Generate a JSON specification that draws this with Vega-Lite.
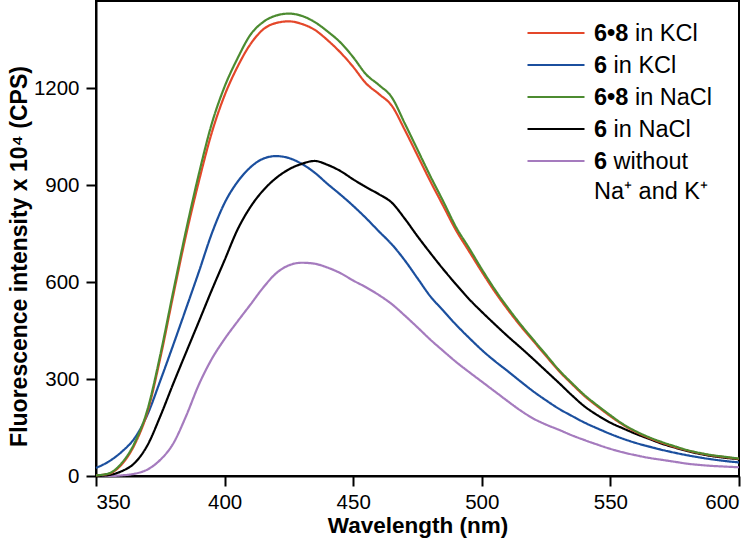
{
  "$schema": "https://vega.github.io/schema/vega-lite/v6.json",
  "width": 643,
  "height": 475,
  "autosize": {"type": "none"},
  "padding": {"left": 96, "top": 1, "right": 17, "bottom": 62},
  "background": "white",
  "config": {
    "font": "Liberation Sans",
    "view": {"stroke": "#000", "strokeWidth": 2},
    "axis": {
      "domainColor": "#000", "domainWidth": 2, "tickColor": "#000", "tickWidth": 2, "tickSize": 10,
      "labelFontSize": 20.5, "labelColor": "#000", "labelFont": "Liberation Sans",
      "titleFontSize": 22.5, "titleFontWeight": "bold", "titleColor": "#000", "titleFont": "Liberation Sans",
      "grid": false
    },
    "legend": {
      "orient": "none", "legendX": 430, "legendY": 16, "title": null, "padding": 0,
      "symbolType": "stroke", "symbolSize": 3249, "symbolStrokeWidth": 2.2, "clipHeight": 32, "rowPadding": 0,
      "labelOffset": 8, "labelFontSize": 23.5, "labelFont": "Liberation Sans", "labelColor": "#000", "labelLimit": 0,
      "labelBaseline": "alphabetic"
    }
  },
  "datasets": {
    "spectra": [
      {"s":"6 without","w":350,"v":0},{"s":"6 without","w":355,"v":0},{"s":"6 without","w":360,"v":2},{"s":"6 without","w":365,"v":7},{"s":"6 without","w":370,"v":20},{"s":"6 without","w":375,"v":50},{"s":"6 without","w":380,"v":100},{"s":"6 without","w":385,"v":185},{"s":"6 without","w":390,"v":283},{"s":"6 without","w":395,"v":362},{"s":"6 without","w":400,"v":424},{"s":"6 without","w":405,"v":478},{"s":"6 without","w":410,"v":530},{"s":"6 without","w":415,"v":583},{"s":"6 without","w":420,"v":627},{"s":"6 without","w":425,"v":652},{"s":"6 without","w":430,"v":660},{"s":"6 without","w":435,"v":657},{"s":"6 without","w":440,"v":645},{"s":"6 without","w":445,"v":628},{"s":"6 without","w":450,"v":605},{"s":"6 without","w":455,"v":584},{"s":"6 without","w":460,"v":560},{"s":"6 without","w":465,"v":532},{"s":"6 without","w":470,"v":497},{"s":"6 without","w":475,"v":460},{"s":"6 without","w":480,"v":422},{"s":"6 without","w":485,"v":387},{"s":"6 without","w":490,"v":353},{"s":"6 without","w":495,"v":322},{"s":"6 without","w":500,"v":292},{"s":"6 without","w":505,"v":262},{"s":"6 without","w":510,"v":232},{"s":"6 without","w":515,"v":203},{"s":"6 without","w":520,"v":178},{"s":"6 without","w":525,"v":159},{"s":"6 without","w":530,"v":143},{"s":"6 without","w":535,"v":126},{"s":"6 without","w":540,"v":111},{"s":"6 without","w":545,"v":97},{"s":"6 without","w":550,"v":84},{"s":"6 without","w":555,"v":73},{"s":"6 without","w":560,"v":64},{"s":"6 without","w":565,"v":56},{"s":"6 without","w":570,"v":50},{"s":"6 without","w":575,"v":44},{"s":"6 without","w":580,"v":38},{"s":"6 without","w":585,"v":34},{"s":"6 without","w":590,"v":31},{"s":"6 without","w":595,"v":29},{"s":"6 without","w":600,"v":27},
      {"s":"6 in KCl","w":350,"v":25},{"s":"6 in KCl","w":355,"v":45},{"s":"6 in KCl","w":360,"v":75},{"s":"6 in KCl","w":365,"v":117},{"s":"6 in KCl","w":370,"v":190},{"s":"6 in KCl","w":375,"v":295},{"s":"6 in KCl","w":380,"v":405},{"s":"6 in KCl","w":385,"v":518},{"s":"6 in KCl","w":390,"v":632},{"s":"6 in KCl","w":395,"v":750},{"s":"6 in KCl","w":400,"v":845},{"s":"6 in KCl","w":405,"v":910},{"s":"6 in KCl","w":410,"v":955},{"s":"6 in KCl","w":415,"v":982},{"s":"6 in KCl","w":420,"v":990},{"s":"6 in KCl","w":425,"v":984},{"s":"6 in KCl","w":430,"v":966},{"s":"6 in KCl","w":435,"v":939},{"s":"6 in KCl","w":440,"v":904},{"s":"6 in KCl","w":445,"v":871},{"s":"6 in KCl","w":450,"v":836},{"s":"6 in KCl","w":455,"v":798},{"s":"6 in KCl","w":460,"v":757},{"s":"6 in KCl","w":465,"v":717},{"s":"6 in KCl","w":470,"v":668},{"s":"6 in KCl","w":475,"v":612},{"s":"6 in KCl","w":480,"v":556},{"s":"6 in KCl","w":485,"v":512},{"s":"6 in KCl","w":490,"v":468},{"s":"6 in KCl","w":495,"v":428},{"s":"6 in KCl","w":500,"v":390},{"s":"6 in KCl","w":505,"v":356},{"s":"6 in KCl","w":510,"v":325},{"s":"6 in KCl","w":515,"v":293},{"s":"6 in KCl","w":520,"v":262},{"s":"6 in KCl","w":525,"v":234},{"s":"6 in KCl","w":530,"v":208},{"s":"6 in KCl","w":535,"v":186},{"s":"6 in KCl","w":540,"v":165},{"s":"6 in KCl","w":545,"v":147},{"s":"6 in KCl","w":550,"v":130},{"s":"6 in KCl","w":555,"v":115},{"s":"6 in KCl","w":560,"v":102},{"s":"6 in KCl","w":565,"v":91},{"s":"6 in KCl","w":570,"v":81},{"s":"6 in KCl","w":575,"v":72},{"s":"6 in KCl","w":580,"v":64},{"s":"6 in KCl","w":585,"v":57},{"s":"6 in KCl","w":590,"v":51},{"s":"6 in KCl","w":595,"v":46},{"s":"6 in KCl","w":600,"v":42},
      {"s":"6 in NaCl","w":350,"v":0},{"s":"6 in NaCl","w":355,"v":3},{"s":"6 in NaCl","w":360,"v":15},{"s":"6 in NaCl","w":365,"v":40},{"s":"6 in NaCl","w":370,"v":95},{"s":"6 in NaCl","w":375,"v":185},{"s":"6 in NaCl","w":380,"v":285},{"s":"6 in NaCl","w":385,"v":382},{"s":"6 in NaCl","w":390,"v":478},{"s":"6 in NaCl","w":395,"v":575},{"s":"6 in NaCl","w":400,"v":668},{"s":"6 in NaCl","w":405,"v":762},{"s":"6 in NaCl","w":410,"v":832},{"s":"6 in NaCl","w":415,"v":884},{"s":"6 in NaCl","w":420,"v":922},{"s":"6 in NaCl","w":425,"v":949},{"s":"6 in NaCl","w":430,"v":966},{"s":"6 in NaCl","w":435,"v":975},{"s":"6 in NaCl","w":440,"v":963},{"s":"6 in NaCl","w":445,"v":944},{"s":"6 in NaCl","w":450,"v":918},{"s":"6 in NaCl","w":455,"v":894},{"s":"6 in NaCl","w":460,"v":872},{"s":"6 in NaCl","w":465,"v":846},{"s":"6 in NaCl","w":470,"v":797},{"s":"6 in NaCl","w":475,"v":742},{"s":"6 in NaCl","w":480,"v":690},{"s":"6 in NaCl","w":485,"v":640},{"s":"6 in NaCl","w":490,"v":593},{"s":"6 in NaCl","w":495,"v":548},{"s":"6 in NaCl","w":500,"v":508},{"s":"6 in NaCl","w":505,"v":470},{"s":"6 in NaCl","w":510,"v":433},{"s":"6 in NaCl","w":515,"v":398},{"s":"6 in NaCl","w":520,"v":362},{"s":"6 in NaCl","w":525,"v":325},{"s":"6 in NaCl","w":530,"v":288},{"s":"6 in NaCl","w":535,"v":250},{"s":"6 in NaCl","w":540,"v":215},{"s":"6 in NaCl","w":545,"v":188},{"s":"6 in NaCl","w":550,"v":165},{"s":"6 in NaCl","w":555,"v":147},{"s":"6 in NaCl","w":560,"v":130},{"s":"6 in NaCl","w":565,"v":115},{"s":"6 in NaCl","w":570,"v":100},{"s":"6 in NaCl","w":575,"v":88},{"s":"6 in NaCl","w":580,"v":77},{"s":"6 in NaCl","w":585,"v":68},{"s":"6 in NaCl","w":590,"v":61},{"s":"6 in NaCl","w":595,"v":56},{"s":"6 in NaCl","w":600,"v":52},
      {"s":"6•8 in KCl","w":350,"v":2},{"s":"6•8 in KCl","w":355,"v":7},{"s":"6•8 in KCl","w":360,"v":36},{"s":"6•8 in KCl","w":365,"v":97},{"s":"6•8 in KCl","w":370,"v":198},{"s":"6•8 in KCl","w":375,"v":365},{"s":"6•8 in KCl","w":380,"v":558},{"s":"6•8 in KCl","w":385,"v":745},{"s":"6•8 in KCl","w":390,"v":912},{"s":"6•8 in KCl","w":395,"v":1062},{"s":"6•8 in KCl","w":400,"v":1178},{"s":"6•8 in KCl","w":405,"v":1266},{"s":"6•8 in KCl","w":410,"v":1336},{"s":"6•8 in KCl","w":415,"v":1382},{"s":"6•8 in KCl","w":420,"v":1402},{"s":"6•8 in KCl","w":425,"v":1407},{"s":"6•8 in KCl","w":430,"v":1399},{"s":"6•8 in KCl","w":435,"v":1381},{"s":"6•8 in KCl","w":440,"v":1349},{"s":"6•8 in KCl","w":445,"v":1311},{"s":"6•8 in KCl","w":450,"v":1266},{"s":"6•8 in KCl","w":455,"v":1215},{"s":"6•8 in KCl","w":460,"v":1182},{"s":"6•8 in KCl","w":465,"v":1146},{"s":"6•8 in KCl","w":470,"v":1072},{"s":"6•8 in KCl","w":475,"v":992},{"s":"6•8 in KCl","w":480,"v":912},{"s":"6•8 in KCl","w":485,"v":836},{"s":"6•8 in KCl","w":490,"v":760},{"s":"6•8 in KCl","w":495,"v":696},{"s":"6•8 in KCl","w":500,"v":632},{"s":"6•8 in KCl","w":505,"v":571},{"s":"6•8 in KCl","w":510,"v":516},{"s":"6•8 in KCl","w":515,"v":465},{"s":"6•8 in KCl","w":520,"v":418},{"s":"6•8 in KCl","w":525,"v":371},{"s":"6•8 in KCl","w":530,"v":325},{"s":"6•8 in KCl","w":535,"v":285},{"s":"6•8 in KCl","w":540,"v":247},{"s":"6•8 in KCl","w":545,"v":215},{"s":"6•8 in KCl","w":550,"v":185},{"s":"6•8 in KCl","w":555,"v":158},{"s":"6•8 in KCl","w":560,"v":136},{"s":"6•8 in KCl","w":565,"v":118},{"s":"6•8 in KCl","w":570,"v":103},{"s":"6•8 in KCl","w":575,"v":90},{"s":"6•8 in KCl","w":580,"v":79},{"s":"6•8 in KCl","w":585,"v":70},{"s":"6•8 in KCl","w":590,"v":63},{"s":"6•8 in KCl","w":595,"v":58},{"s":"6•8 in KCl","w":600,"v":53},
      {"s":"6•8 in NaCl","w":350,"v":2},{"s":"6•8 in NaCl","w":355,"v":8},{"s":"6•8 in NaCl","w":360,"v":40},{"s":"6•8 in NaCl","w":365,"v":102},{"s":"6•8 in NaCl","w":370,"v":205},{"s":"6•8 in NaCl","w":375,"v":375},{"s":"6•8 in NaCl","w":380,"v":570},{"s":"6•8 in NaCl","w":385,"v":760},{"s":"6•8 in NaCl","w":390,"v":935},{"s":"6•8 in NaCl","w":395,"v":1090},{"s":"6•8 in NaCl","w":400,"v":1205},{"s":"6•8 in NaCl","w":405,"v":1292},{"s":"6•8 in NaCl","w":410,"v":1365},{"s":"6•8 in NaCl","w":415,"v":1405},{"s":"6•8 in NaCl","w":420,"v":1425},{"s":"6•8 in NaCl","w":425,"v":1431},{"s":"6•8 in NaCl","w":430,"v":1424},{"s":"6•8 in NaCl","w":435,"v":1405},{"s":"6•8 in NaCl","w":440,"v":1376},{"s":"6•8 in NaCl","w":445,"v":1342},{"s":"6•8 in NaCl","w":450,"v":1296},{"s":"6•8 in NaCl","w":455,"v":1243},{"s":"6•8 in NaCl","w":460,"v":1210},{"s":"6•8 in NaCl","w":465,"v":1172},{"s":"6•8 in NaCl","w":470,"v":1092},{"s":"6•8 in NaCl","w":475,"v":1010},{"s":"6•8 in NaCl","w":480,"v":928},{"s":"6•8 in NaCl","w":485,"v":850},{"s":"6•8 in NaCl","w":490,"v":770},{"s":"6•8 in NaCl","w":495,"v":706},{"s":"6•8 in NaCl","w":500,"v":640},{"s":"6•8 in NaCl","w":505,"v":578},{"s":"6•8 in NaCl","w":510,"v":522},{"s":"6•8 in NaCl","w":515,"v":470},{"s":"6•8 in NaCl","w":520,"v":422},{"s":"6•8 in NaCl","w":525,"v":375},{"s":"6•8 in NaCl","w":530,"v":328},{"s":"6•8 in NaCl","w":535,"v":288},{"s":"6•8 in NaCl","w":540,"v":250},{"s":"6•8 in NaCl","w":545,"v":218},{"s":"6•8 in NaCl","w":550,"v":188},{"s":"6•8 in NaCl","w":555,"v":160},{"s":"6•8 in NaCl","w":560,"v":138},{"s":"6•8 in NaCl","w":565,"v":120},{"s":"6•8 in NaCl","w":570,"v":105},{"s":"6•8 in NaCl","w":575,"v":92},{"s":"6•8 in NaCl","w":580,"v":80},{"s":"6•8 in NaCl","w":585,"v":71},{"s":"6•8 in NaCl","w":590,"v":64},{"s":"6•8 in NaCl","w":595,"v":59},{"s":"6•8 in NaCl","w":600,"v":54}
    ]
  },
  "data": {"name": "spectra"},
  "mark": {"type": "line", "strokeWidth": 2.2, "interpolate": "monotone"},
  "encoding": {
    "x": {
      "field": "w", "type": "quantitative",
      "scale": {"domain": [350, 600], "nice": false, "zero": false},
      "axis": {"values": [350, 400, 450, 500, 550, 600], "title": "Wavelength (nm)", "labelPadding": 6, "titlePadding": 2}
    },
    "y": {
      "field": "v", "type": "quantitative",
      "scale": {"domain": [0, 1470], "nice": false},
      "axis": {"values": [0, 300, 600, 900, 1200], "format": "d", "title": "Fluorescence intensity x 10⁴ (CPS)", "titleFontSize": 23, "labelPadding": 7, "titlePadding": 2, "titleY": 255}
    },
    "color": {
      "field": "s", "type": "nominal",
      "scale": {
        "domain": ["6•8 in KCl", "6 in KCl", "6•8 in NaCl", "6 in NaCl", "6 without"],
        "range": ["#E4472A", "#1B4F9E", "#4C8B30", "#000000", "#A57BBE"]
      },
      "legend": {
        "labelFontWeight": "bold",
        "labelExpr": "indexof(datum.label, '•') >= 0 ? '6•8' : '6'",
        "encode": {"labels": {"update": {"dy": {"value": 8.4}}}}
      }
    },
    "opacity": {
      "field": "s", "type": "ordinal",
      "sort": ["6•8 in KCl", "6 in KCl", "6•8 in NaCl", "6 in NaCl", "6 without"],
      "scale": {"range": [1, 1]},
      "legend": {
        "symbolStrokeColor": "transparent", "symbolOpacity": 0,
        "labelExpr": "datum.label == '6 without' ? 'without' : substring(datum.label, indexof(datum.label, ' ') + 1)",
        "encode": {
          "labels": {"update": {"dy": {"value": 8.4}, "dx": {"signal": "indexof(datum.value, '•') >= 0 ? 41 : 19.6"}}},
          "symbols": {"update": {"opacity": {"value": 0}}}
        }
      }
    },
    "strokeDash": {
      "field": "s", "type": "nominal",
      "scale": {
        "domain": ["6 in KCl", "6•8 in KCl", "6 in NaCl", "6•8 in NaCl", "6 without"],
        "range": [[1, 0], [1, 0], [1, 0], [1, 0], [1, 0]]
      },
      "legend": {
        "symbolStrokeColor": "transparent", "symbolOpacity": 0,
        "labelExpr": "datum.label == '6 without' ? 'Na⁺ and K⁺' : ''",
        "encode": {
          "labels": {"update": {"dy": {"signal": "datum.value == '6 without' ? 38.4 : 8.4"}}},
          "symbols": {"update": {"opacity": {"value": 0}}}
        }
      }
    }
  }
}
